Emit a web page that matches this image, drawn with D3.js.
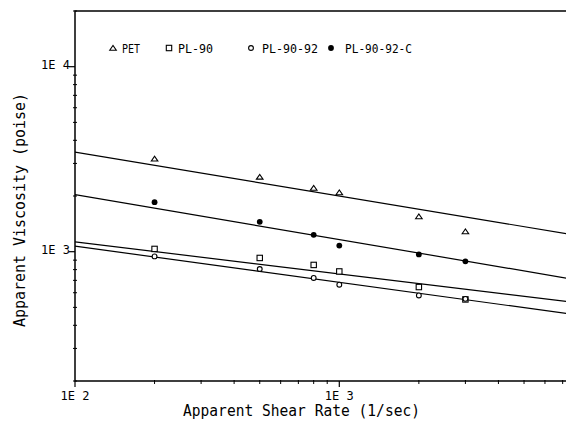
<!DOCTYPE html>
<html>
<head>
<meta charset="utf-8">
<script src="https://cdn.jsdelivr.net/npm/d3@7"></script>
<style>
  body { margin: 0; background: #fff; }
  svg { display: block; }
  text { font-family: "DejaVu Sans Mono", "Liberation Mono", monospace; fill: #000; }
</style>
</head>
<body>
<svg id="chart" width="566" height="421"></svg>
<script>
// shear rates (1/sec) where samples were measured
const shearRates = [200, 500, 800, 1000, 2000, 3000];

// apparent viscosity (poise)
const pet = [3175, 2535, 2210, 2089, 1549, 1284];
const pl90 = [1035, 925, 848, 782, 644, 552];
const pl9092 = [943, 806, 721, 663, 580, 556];
const pl9092c = [1851, 1450, 1234, 1079, 967, 887];

// fitted power-law lines, value at each end of the shear rate axis
const fitRates = [100, 10000];
const petFit = [3450, 1159];
const pl90Fit = [1130, 509];
const pl9092Fit = [1072, 435];
const pl9092cFit = [2035, 665];

const xTickValues = [100, 1000];
const xTickLabels = ["1E 2", "1E 3"];
const yTickValues = [1000, 10000];
const yTickLabels = ["1E 3", "1E 4"];

const series = [
    { name: "PET", values: pet, fit: petFit, symbol: "triangle" },
    { name: "PL-90", values: pl90, fit: pl90Fit, symbol: "square" },
    { name: "PL-90-92", values: pl9092, fit: pl9092Fit, symbol: "circle" },
    { name: "PL-90-92-C", values: pl9092c, fit: pl9092cFit, symbol: "dot" }
];

const svg = d3.select("#chart");

const plotLeft = 75, plotTop = 11, plotBottom = 381;
const x = d3.scaleLog().domain([100, 10000]).range([plotLeft, 603.6]);
const y = d3.scaleLog().domain([200, 20000]).range([plotBottom, plotTop]);

// frame: top, left and bottom edges (right edge falls outside the picture)
svg.append("path")
    .attr("d", `M566,${plotTop}H${plotLeft}V${plotBottom}H566`)
    .attr("fill", "none")
    .attr("stroke", "#000")
    .attr("stroke-width", 1.5);

// y axis ticks
const yMinor = y.ticks().filter(v => !yTickValues.includes(v));
svg.append("g").selectAll("line")
    .data(yMinor)
    .enter().append("line")
    .attr("x1", plotLeft - 2).attr("x2", plotLeft + 2)
    .attr("y1", d => y(d)).attr("y2", d => y(d))
    .attr("stroke", "#000");

svg.append("g").selectAll("line")
    .data(yTickValues)
    .enter().append("line")
    .attr("x1", plotLeft - 6).attr("x2", plotLeft)
    .attr("y1", d => y(d)).attr("y2", d => y(d))
    .attr("stroke", "#000").attr("stroke-width", 1.2);

svg.append("g").selectAll("text")
    .data(yTickValues)
    .enter().append("text")
    .attr("x", plotLeft - 5)
    .attr("y", d => y(d) + 2)
    .attr("text-anchor", "end")
    .attr("font-size", 12)
    .text((d, i) => yTickLabels[i]);

// x axis ticks
const xMinor = x.ticks().filter(v => !xTickValues.includes(v));
svg.append("g").selectAll("line")
    .data(xMinor)
    .enter().append("line")
    .attr("x1", d => x(d)).attr("x2", d => x(d))
    .attr("y1", plotBottom - 1).attr("y2", plotBottom + 3)
    .attr("stroke", "#000");

svg.append("g").selectAll("line")
    .data(xTickValues)
    .enter().append("line")
    .attr("x1", d => x(d)).attr("x2", d => x(d))
    .attr("y1", plotBottom).attr("y2", plotBottom + 6)
    .attr("stroke", "#000").attr("stroke-width", 1.2);

svg.append("g").selectAll("text")
    .data(xTickValues)
    .enter().append("text")
    .attr("x", d => x(d))
    .attr("y", 400)
    .attr("text-anchor", "middle")
    .attr("font-size", 12)
    .text((d, i) => xTickLabels[i]);

// axis titles
svg.append("text")
    .attr("x", 183).attr("y", 416)
    .attr("font-size", 15)
    .attr("textLength", 237)
    .attr("lengthAdjust", "spacingAndGlyphs")
    .text("Apparent Shear Rate (1/sec)");

svg.append("text")
    .attr("transform", "translate(25,327) rotate(-90)")
    .attr("font-size", 15)
    .attr("textLength", 234)
    .attr("lengthAdjust", "spacingAndGlyphs")
    .text("Apparent Viscosity (poise)");

// fitted lines, clipped to the plot area
svg.append("clipPath").attr("id", "plot-clip")
    .append("rect")
    .attr("x", plotLeft).attr("y", plotTop)
    .attr("width", 566 - plotLeft).attr("height", plotBottom - plotTop);

const line = d3.line()
    .x(d => x(d[0]))
    .y(d => y(d[1]));

svg.append("g").attr("clip-path", "url(#plot-clip)")
    .selectAll("path")
    .data(series)
    .enter().append("path")
    .attr("d", s => line(fitRates.map((r, i) => [r, s.fit[i]])))
    .attr("fill", "none")
    .attr("stroke", "#000")
    .attr("stroke-width", 1.2);

function drawSymbol(g, symbol) {
    if (symbol === "triangle") {
        g.append("path").attr("d", "M-3.3,2.2L0,-2.6L3.3,2.2Z")
            .attr("fill", "#fff").attr("stroke", "#000").attr("stroke-width", 1.1);
    } else if (symbol === "square") {
        g.append("rect").attr("x", -2.7).attr("y", -2.7).attr("width", 5.4).attr("height", 5.4)
            .attr("fill", "#fff").attr("stroke", "#000").attr("stroke-width", 1.1);
    } else if (symbol === "circle") {
        g.append("circle").attr("r", 2.4)
            .attr("fill", "#fff").attr("stroke", "#000").attr("stroke-width", 1.1);
    } else {
        g.append("circle").attr("r", 2.9).attr("fill", "#000");
    }
}

// data points
series.forEach(s => {
    svg.append("g").selectAll("g")
        .data(s.values)
        .enter().append("g")
        .attr("transform", (d, i) => `translate(${x(shearRates[i])},${y(d)})`)
        .each(function() { drawSymbol(d3.select(this), s.symbol); });
});

// legend
const legendX = [113, 169, 251, 331];
const legendTextX = [122, 178, 262, 345];
const legendW = [18, 35, 56, 67];
const legend = svg.append("g");
series.forEach((s, i) => {
    const g = legend.append("g").attr("transform", `translate(${legendX[i]},48)`);
    drawSymbol(g, s.symbol);
    legend.append("text")
        .attr("x", legendTextX[i]).attr("y", 53)
        .attr("font-size", 13)
        .attr("textLength", legendW[i])
        .attr("lengthAdjust", "spacingAndGlyphs")
        .text(s.name);
});
</script>
</body>
</html>
